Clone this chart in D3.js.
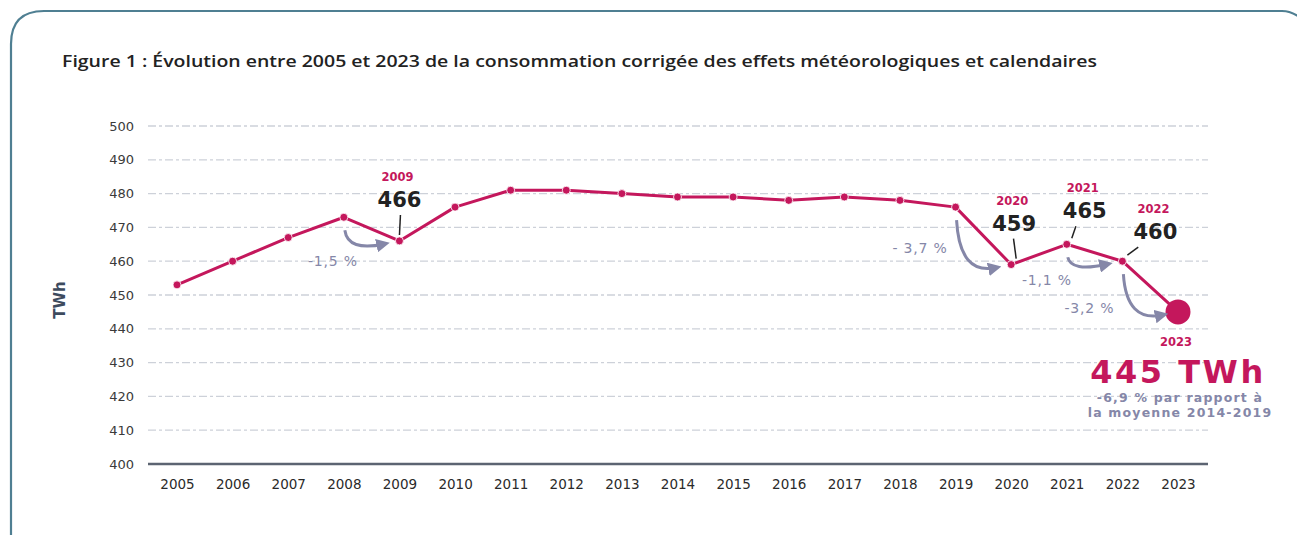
<!DOCTYPE html>
<html lang="fr">
<head>
<meta charset="UTF-8">
<script src="https://cdn.jsdelivr.net/npm/d3@7"></script>
<title>Figure 1</title>
<style>
  body { margin: 0; background: #fff; }
  svg { display: block; }
</style>
</head>
<body>
<script>
// données
var years = [2005, 2006, 2007, 2008, 2009, 2010, 2011, 2012, 2013, 2014,
             2015, 2016, 2017, 2018, 2019, 2020, 2021, 2022, 2023];
var consumption = [453, 460, 467, 473, 466, 476, 481, 481, 480, 479,
                   479, 478, 479, 478, 476, 459, 465, 460, 445];
var yTicks = [400, 410, 420, 430, 440, 450, 460, 470, 480, 490, 500];

// années mises en avant et variations
var highlightYears = [2009, 2020, 2021, 2022];
var changeFrom = [2008, 2019, 2021, 2022];
var changeTo = [2009, 2020, 2022, 2023];
var changeLabels = ["-1,5 %", "- 3,7 %", "-1,1 %", "-3,2 %"];

var width = 1297, height = 535;
var pink = "#c4175c", arrowCol = "#8587a8", dark = "#222";
var numFont = "'DejaVu Sans', sans-serif";

// décalages des étiquettes (mise en page seulement)
var valueOffset = { 2009: [0, -34], 2020: [3, -34], 2021: [18, -26], 2022: [33, -22] };
var changeOffset = { 2008: [14, 49], 2019: [-8, 46], 2021: [5, 41], 2022: [-8, 52] };

var svg = d3.select("body").append("svg")
    .attr("width", width).attr("height", height);

// cadre arrondi
svg.append("path")
    .attr("d", "M11,560 L11,44 Q11,11 44,11 L1282,11 Q1294,11 1305,22")
    .attr("fill", "none").attr("stroke", "#4f7f92").attr("stroke-width", 2.2);

svg.append("text")
    .attr("x", 62).attr("y", 67)
    .attr("font-family", "'Open Sans', sans-serif")
    .attr("font-weight", 600).attr("font-size", "16.5px")
    .attr("textLength", 1035).attr("lengthAdjust", "spacingAndGlyphs")
    .attr("fill", dark)
    .text("Figure 1 : Évolution entre 2005 et 2023 de la consommation corrigée des effets météorologiques et calendaires");

var x = d3.scalePoint().domain(years).range([177, 1178]);
var y = d3.scaleLinear().domain([400, 500]).range([464, 126]);

// grille
svg.append("g").selectAll("line").data(yTicks.filter(function(d){ return d > 400; }))
    .enter().append("line")
    .attr("x1", 148).attr("x2", 1208)
    .attr("y1", function(d){ return y(d); })
    .attr("y2", function(d){ return y(d); })
    .attr("stroke", "#cdd1d9").attr("stroke-width", 1.3)
    .attr("stroke-dasharray", "8,3,3,3");

// axe Y
var yAxis = svg.append("g").attr("transform", "translate(134,0)")
    .call(d3.axisLeft(y).tickValues(yTicks).tickSize(0).tickPadding(0));
yAxis.select(".domain").remove();
yAxis.selectAll("text")
    .attr("font-family", numFont).attr("font-size", "13px")
    .attr("fill", "#3a3a3a");

// axe X
var xAxis = svg.append("g").attr("transform", "translate(0,464)")
    .call(d3.axisBottom(x).tickSize(0).tickPadding(15).tickFormat(d3.format("d")));
xAxis.select(".domain").attr("d", "M148,0H1208").attr("stroke", "#5c6472").attr("stroke-width", 2.5);
xAxis.selectAll("text")
    .attr("font-family", numFont).attr("font-size", "13.5px")
    .attr("fill", "#2a2a2a");

svg.append("text")
    .attr("transform", "translate(65,300) rotate(-90)")
    .attr("text-anchor", "middle")
    .attr("font-family", numFont).attr("font-weight", 700)
    .attr("font-size", "15px").attr("fill", "#3d4b5e")
    .text("TWh");

// courbe
var line = d3.line()
    .x(function(d, i){ return x(years[i]); })
    .y(function(d){ return y(d); });

svg.append("path").datum(consumption)
    .attr("d", line)
    .attr("fill", "none").attr("stroke", pink).attr("stroke-width", 3)
    .attr("stroke-linejoin", "round");

svg.append("g").selectAll("circle").data(consumption.slice(0, -1))
    .enter().append("circle")
    .attr("cx", function(d, i){ return x(years[i]); })
    .attr("cy", function(d){ return y(d); })
    .attr("r", 4).attr("fill", pink).attr("stroke", "#fff").attr("stroke-width", 0.8);

var last = years.length - 1;
svg.append("circle")
    .attr("cx", x(years[last])).attr("cy", y(consumption[last]))
    .attr("r", 12.5).attr("fill", pink);

// flèches
svg.append("defs").append("marker")
    .attr("id", "head").attr("viewBox", "0 0 10 10")
    .attr("refX", 6).attr("refY", 5)
    .attr("markerWidth", 4.5).attr("markerHeight", 4.5)
    .attr("orient", "auto")
    .append("path").attr("d", "M0,0 L10,5 L0,10 z").attr("fill", arrowCol);

function valueOf(yr){ return consumption[years.indexOf(yr)]; }

changeFrom.forEach(function(yr, i){
    var x0 = x(yr), y0 = y(valueOf(yr));
    var x1 = x(changeTo[i]), y1 = y(valueOf(changeTo[i]));
    var sx = x0 + 1, sy = y0 + 13;
    var ex = x1 - 15, ey = y1 + 3;
    svg.append("path")
        .attr("d", "M" + sx + "," + sy + " Q" + (x0 + 4) + "," + (ey + 8) + " " + ex + "," + ey)
        .attr("fill", "none").attr("stroke", arrowCol).attr("stroke-width", 3)
        .attr("marker-end", "url(#head)");
    var off = changeOffset[yr];
    svg.append("text")
        .attr("x", x0 + off[0]).attr("y", y0 + off[1])
        .attr("text-anchor", "end")
        .attr("font-family", numFont).attr("font-size", "14px")
        .attr("letter-spacing", "0.8px")
        .attr("fill", arrowCol)
        .text(changeLabels[i]);
});

// étiquettes de valeur
highlightYears.forEach(function(yr){
    var px = x(yr), py = y(valueOf(yr));
    var off = valueOffset[yr];
    var lx = px + off[0], ly = py + off[1];
    svg.append("text")
        .attr("x", lx - 2).attr("y", ly - 26).attr("text-anchor", "middle")
        .attr("font-family", numFont).attr("font-weight", 700)
        .attr("font-size", "11.5px").attr("fill", pink)
        .text(yr);
    svg.append("text")
        .attr("x", lx).attr("y", ly).attr("text-anchor", "middle")
        .attr("font-family", numFont).attr("font-weight", 700)
        .attr("font-size", "21px").attr("fill", dark)
        .text(valueOf(yr));
    svg.append("line")
        .attr("x1", px + off[0] * 0.45 + 1).attr("y1", ly + 8)
        .attr("x2", px + (off[0] > 0 ? 5 : 0)).attr("y2", py - 6)
        .attr("stroke", dark).attr("stroke-width", 1.5);
});

// 2023
var lx = x(years[last]), ly = y(consumption[last]);
svg.append("text")
    .attr("x", lx - 2).attr("y", ly + 34).attr("text-anchor", "middle")
    .attr("font-family", numFont).attr("font-weight", 700)
    .attr("font-size", "11.5px").attr("fill", pink)
    .text(years[last]);
svg.append("text")
    .attr("x", lx).attr("y", ly + 71).attr("text-anchor", "middle")
    .attr("font-family", numFont).attr("font-weight", 700)
    .attr("font-size", "32px").attr("letter-spacing", "2.5px").attr("fill", pink)
    .text(consumption[last] + " TWh");
svg.append("text")
    .attr("x", lx + 2).attr("y", ly + 90).attr("text-anchor", "middle")
    .attr("font-family", numFont).attr("font-weight", 700)
    .attr("font-size", "12.5px").attr("letter-spacing", "1.2px").attr("fill", arrowCol)
    .text("-6,9 % par rapport à");
svg.append("text")
    .attr("x", lx + 2).attr("y", ly + 105).attr("text-anchor", "middle")
    .attr("font-family", numFont).attr("font-weight", 700)
    .attr("font-size", "12.5px").attr("letter-spacing", "1.2px").attr("fill", arrowCol)
    .text("la moyenne 2014-2019");
</script>
</body>
</html>
